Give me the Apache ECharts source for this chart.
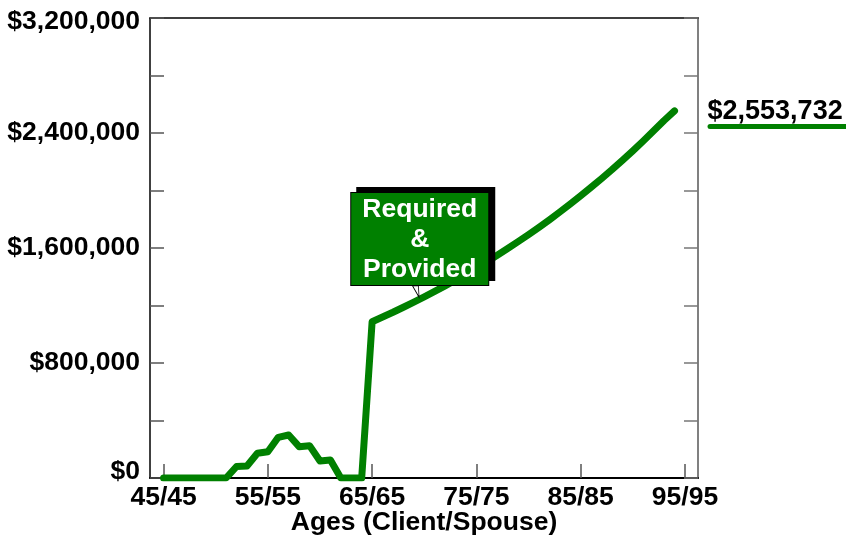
<!DOCTYPE html>
<html>
<head>
<meta charset="utf-8">
<title>Ages (Client/Spouse)</title>
<script src="https://cdn.jsdelivr.net/npm/echarts@6/dist/echarts.min.js"></script>
<style>
  html, body { margin: 0; padding: 0; background: #fff; }
  #chart { width: 846px; height: 537px; }
</style>
</head>
<body>
<div id="chart"></div>
<script>
// Client ages, one point per year
const ages = [
  45, 46, 47, 48, 49, 50, 51, 52, 53, 54,
  55, 56, 57, 58, 59, 60, 61, 62, 63, 64,
  65, 66, 67, 68, 69, 70, 71, 72, 73, 74,
  75, 76, 77, 78, 79, 80, 81, 82, 83, 84,
  85, 86, 87, 88, 89, 90, 91, 92, 93, 94
];

// Required & provided amount at each age
const amounts = [
  0, 0, 0, 0, 0, 0, 0, 80000, 83000, 172000,
  183000, 283000, 299000, 218000, 225000, 118000, 125000, 0, 0, 0,
  1087000, 1120000, 1153000, 1188000, 1224000, 1260000, 1298000, 1337000, 1377000, 1418000,
  1461000, 1505000, 1550000, 1596000, 1644000, 1693000, 1744000, 1796000, 1850000, 1906000,
  1963000, 2022000, 2083000, 2145000, 2210000, 2276000, 2344000, 2415000, 2487000, 2553732
];

// Axis ticks and their labels
const xTickValues = [45, 55, 65, 75, 85, 95];
const xTickLabels = ['45/45', '55/55', '65/65', '75/75', '85/85', '95/95'];
const yTickValues = [0, 800000, 1600000, 2400000, 3200000];
const yTickLabels = ['$0', '$800,000', '$1,600,000', '$2,400,000', '$3,200,000'];

// Callout anchor on the curve
const calloutAge = 69.5;
const calloutText = 'Required\n&\nProvided';

const GREEN = '#008000';
const FONT = '"Liberation Sans", Arial, Helvetica, sans-serif';

const seriesData = ages.map((a, i) => [a, amounts[i]]);
const lo = ages.indexOf(Math.floor(calloutAge));
const calloutValue = amounts[lo] + (amounts[lo + 1] - amounts[lo]) * (calloutAge - ages[lo]) + 15000;

const fmtMoney = v => '$' + Math.round(v).toLocaleString('en-US');

// Lowest label sits a little above its tick, the highest a little below
function yLabel(v) {
  const i = yTickValues.indexOf(v);
  if (i < 0) return '';
  if (i === 0) return '{lo|' + yTickLabels[i] + '}';
  if (i === yTickValues.length - 1) return '{hi|' + yTickLabels[i] + '}';
  return yTickLabels[i];
}

const chart = echarts.init(document.getElementById('chart'), null, { renderer: 'canvas' });

const yLabelText = { color: '#000', fontFamily: FONT, fontWeight: 'bold', fontSize: 26.5 };

chart.setOption({
  animation: false,
  backgroundColor: '#ffffff',
  grid: { left: 150, right: 148, top: 18, bottom: 59, containLabel: false, outerBoundsMode: 'none' },
  xAxis: [
    {
      type: 'value',
      position: 'bottom',
      min: 43.7,
      max: 96.25,
      splitLine: { show: false },
      axisLine: { show: true, onZero: false, lineStyle: { color: '#000', width: 2 } },
      axisTick: { show: true, inside: true, length: 14, customValues: xTickValues, lineStyle: { color: '#555', width: 1.5 } },
      axisLabel: {
        customValues: xTickValues,
        margin: 6,
        color: '#000',
        fontFamily: FONT,
        fontWeight: 'bold',
        fontSize: 26.5,
        formatter: v => xTickLabels[xTickValues.indexOf(v)] || ''
      },
      name: 'Ages (Client/Spouse)',
      nameLocation: 'middle',
      nameGap: 31,
      nameMoveOverlap: false,
      nameTextStyle: { color: '#000', fontFamily: FONT, fontWeight: 'bold', fontSize: 26.5 }
    },
    {
      type: 'value',
      position: 'top',
      min: 43.7,
      max: 96.25,
      splitLine: { show: false },
      axisLine: { show: true, onZero: false, lineStyle: { color: '#000', width: 1.5 } },
      axisTick: { show: false },
      axisLabel: { show: false }
    }
  ],
  yAxis: [
    {
      type: 'value',
      position: 'left',
      min: 0,
      max: 3200000,
      interval: 400000,
      splitLine: { show: false },
      axisLine: { show: true, onZero: false, lineStyle: { color: '#000', width: 1.5 } },
      axisTick: { show: true, inside: true, length: 14, lineStyle: { color: '#555', width: 1.5 } },
      axisLabel: Object.assign({
        customValues: yTickValues,
        margin: 10,
        formatter: yLabel,
        rich: {
          lo: Object.assign({ padding: [0, 0, 12, 0] }, yLabelText),
          hi: Object.assign({ padding: [8, 0, 0, 0] }, yLabelText)
        }
      }, yLabelText)
    },
    {
      type: 'value',
      position: 'right',
      min: 0,
      max: 3200000,
      interval: 400000,
      splitLine: { show: false },
      axisLine: { show: true, onZero: false, lineStyle: { color: '#808080', width: 2 } },
      axisTick: { show: true, inside: true, length: 14, lineStyle: { color: '#777', width: 1.5 } },
      axisLabel: { show: false }
    }
  ],
  series: [
    {
      type: 'line',
      xAxisIndex: 0,
      yAxisIndex: 0,
      data: seriesData,
      showSymbol: false,
      symbol: 'none',
      silent: true,
      lineStyle: { color: GREEN, width: 7, cap: 'round', join: 'round' },
      emphasis: { disabled: true },
      endLabel: {
        show: true,
        distance: 33,
        offset: [0, 3],
        formatter: p => '{v|' + fmtMoney(p.value[1]) + '}\n{bar|}',
        rich: {
          v: { color: '#000', fontFamily: FONT, fontWeight: 'bold', fontSize: 27, lineHeight: 25, align: 'left' },
          bar: { backgroundColor: GREEN, height: 5, width: 142, borderRadius: 3, lineHeight: 5 }
        }
      },
      markPoint: {
        silent: true,
        symbol: 'path://M0,0 L6,0 L6.6,11.6 Z',
        symbolSize: [6.6, 11.6],
        symbolKeepAspect: false,
        symbolOffset: [-3.3, -5.8],
        itemStyle: { color: '#fff', borderColor: '#000', borderWidth: 1 },
        label: {
          show: true,
          position: 'top',
          distance: 0,
          offset: [4, 0],
          formatter: calloutText,
          color: '#fff',
          fontFamily: FONT,
          fontWeight: 'bold',
          fontSize: 26.5,
          lineHeight: 30,
          align: 'center',
          width: 137,
          padding: [2, 0, 0, 0],
          backgroundColor: GREEN,
          borderColor: '#000',
          borderWidth: 1,
          shadowColor: '#000',
          shadowBlur: 0,
          shadowOffsetX: 6,
          shadowOffsetY: -5
        },
        data: [{ coord: [calloutAge, calloutValue] }]
      }
    }
  ]
});
</script>
</body>
</html>
